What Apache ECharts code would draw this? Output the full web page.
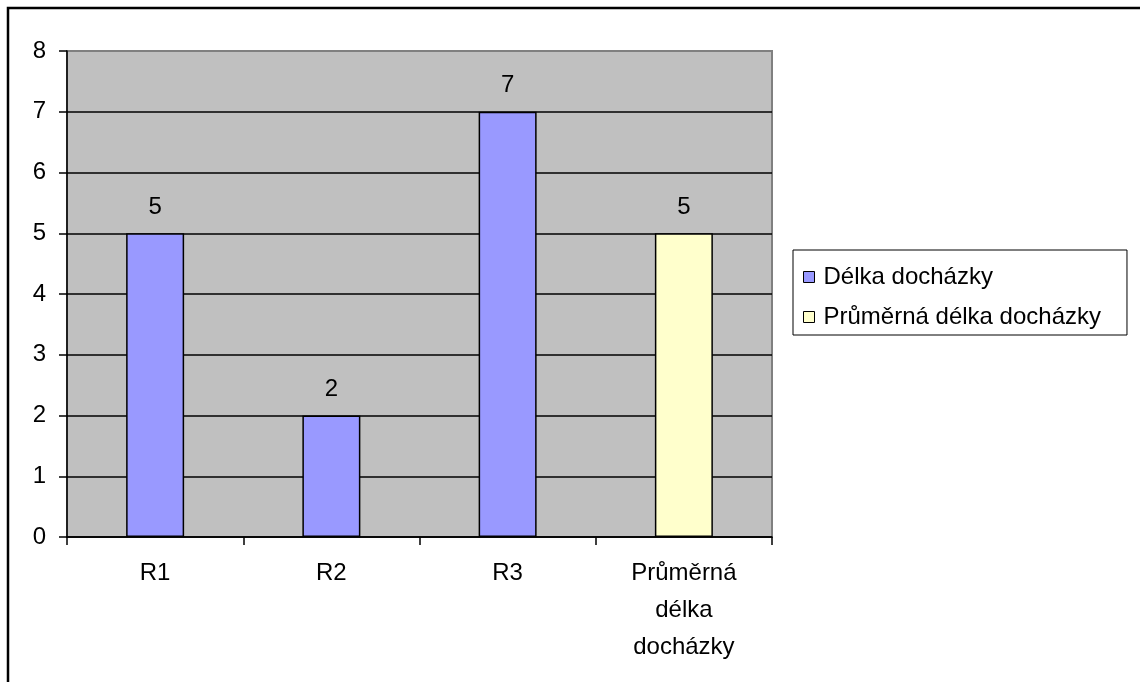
<!DOCTYPE html>
<html>
<head>
<meta charset="utf-8">
<script src="https://cdn.jsdelivr.net/npm/echarts@6/dist/echarts.min.js"></script>
<style>
  html, body { margin: 0; padding: 0; background: #fff; }
  #chart { width: 1140px; height: 682px; }
</style>
</head>
<body>
<div id="chart"></div>
<script>
// Categories along the x axis
const categories = ['R1', 'R2', 'R3', 'Průměrná\ndélka\ndocházky'];
// Attendance length per respondent (blue) and the average (yellow)
const delkaDochazky = [5, 2, 7, '-'];
const prumernaDelka = ['-', '-', '-', 5];
const seriesNames = ['Délka docházky', 'Průměrná délka docházky'];
const yTicks = { min: 0, max: 8, interval: 1 };

const FONT = 'Liberation Sans, Arial, sans-serif';
const FS = 24;

const chart = echarts.init(document.getElementById('chart'), null, { renderer: 'canvas' });

// Grid lines: black inside, the top one is the grey plot border
const splitColors = [];
for (let v = yTicks.min; v <= yTicks.max; v += yTicks.interval) {
  splitColors.push(v === yTicks.max ? '#808080' : '#000000');
}

const labelCfg = {
  show: true,
  position: 'top',
  distance: 14,
  color: '#000',
  fontFamily: FONT,
  fontSize: FS
};

chart.setOption({
  animation: false,
  backgroundColor: '#ffffff',
  textStyle: { fontFamily: FONT },
  graphic: [{
    type: 'rect',
    shape: { x: 8, y: 8, width: 1300, height: 900 },
    style: { fill: 'none', stroke: '#000', lineWidth: 2.5 },
    silent: true
  }],
  grid: {
    left: 67, top: 51, right: 368, bottom: 145,
    show: true,
    backgroundColor: '#C0C0C0',
    borderColor: '#808080',
    borderWidth: 2
  },
  legend: {
    orient: 'vertical',
    left: 793,
    top: 250,
    padding: [15, 26, 6, 10],
    itemGap: 16,
    itemWidth: 11,
    itemHeight: 11,
    icon: 'rect',
    borderColor: '#000',
    borderWidth: 1,
    backgroundColor: '#fff',
    itemStyle: { borderColor: '#000', borderWidth: 1 },
    textStyle: { color: '#000', fontFamily: FONT, fontSize: FS, padding: [0, 0, 0, 4] },
    data: seriesNames
  },
  xAxis: {
    type: 'category',
    data: categories,
    boundaryGap: true,
    axisLine: { show: true, lineStyle: { color: '#000', width: 1.5 } },
    axisTick: { show: true, inside: false, length: 8, alignWithLabel: false, lineStyle: { color: '#000', width: 1.5 } },
    axisLabel: { color: '#000', fontFamily: FONT, fontSize: FS, lineHeight: 37, margin: 18, interval: 0 },
    splitLine: { show: false }
  },
  yAxis: {
    type: 'value',
    min: yTicks.min,
    max: yTicks.max,
    interval: yTicks.interval,
    axisLine: { show: true, lineStyle: { color: '#000', width: 1.5 } },
    axisTick: { show: true, inside: false, length: 8, lineStyle: { color: '#000', width: 1.5 } },
    axisLabel: { color: '#000', fontFamily: FONT, fontSize: FS, margin: 21 },
    splitLine: { show: true, lineStyle: { color: splitColors, width: 1.5 } }
  },
  series: [{
    name: seriesNames[0],
    type: 'bar',
    data: delkaDochazky,
    barWidth: 58,
    barGap: '-100%',
    itemStyle: { color: '#9999FF', borderColor: '#000', borderWidth: 1.5 },
    label: labelCfg
  }, {
    name: seriesNames[1],
    type: 'bar',
    data: prumernaDelka,
    barWidth: 58,
    barGap: '-100%',
    itemStyle: { color: '#FFFFCC', borderColor: '#000', borderWidth: 1.5 },
    label: labelCfg
  }]
});
</script>
</body>
</html>
